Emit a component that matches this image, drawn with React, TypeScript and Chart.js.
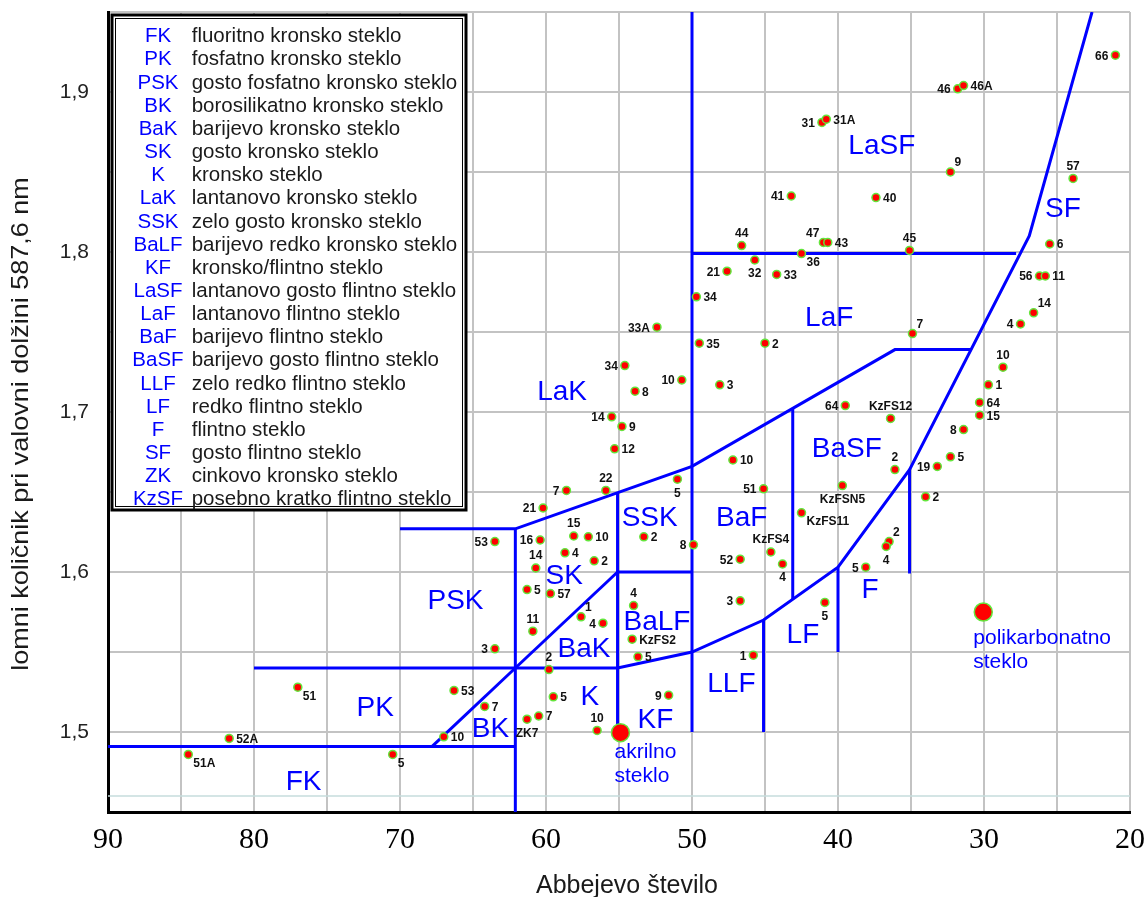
import React, { useEffect, useRef } from 'react';
import { Chart, registerables } from 'chart.js';

Chart.register(...registerables);

// ---------- axis ticks ----------
const xTickValues = [90, 80, 70, 60, 50, 40, 30, 20];
const xTickLabels = ['90', '80', '70', '60', '50', '40', '30', '20'];
const yTickValues = [1.5, 1.6, 1.7, 1.8, 1.9];
const yTickLabels = ['1,5', '1,6', '1,7', '1,8', '1,9'];

const xAxisTitle = 'Abbejevo število';
const yAxisTitle = 'lomni količnik pri valovni dolžini 587,6 nm';

// ---------- glasses (Abbe number, refractive index n_d) ----------
const glassNames = [
  '66', '46', '46A', '31', '31A', '9', '57', '41', '40', '47',
  '43', '45', '36', '6', '44', '21', '32', '33', '56', '11',
  '14', '4', '7', '2', '34', '33A', '35', '34', '10', '3',
  '8', '14', '9', '12', '10', '5', '22', '7', '21', '51',
  '10', '1', '64', '15', '64', 'KzFS12', '8', '5', '19', '2',
  'KzFSN5', '2', 'KzFS11', 'KzFS4', '4', '2', '4', '5', '5', '53',
  '16', '15', '10', '4', '2', '14', '2', '8', '52', '5',
  '57', '3', '4', '1', '4', '11', '3', 'KzFS2', '5', '1',
  '2', '53', '5', '9', '7', '7', 'ZK7', '10', '10', '5',
  '51', '52A', '51A',
];
const abbeNumbers = [
  21.0, 31.8, 31.4, 41.1, 40.8, 32.3, 23.9, 43.2, 37.4, 41.0,
  40.7, 35.1, 42.5, 25.5, 46.6, 47.6, 45.7, 44.2, 26.2, 25.8,
  26.6, 27.5, 34.9, 45.0, 49.7, 52.4, 49.5, 54.6, 50.7, 48.1,
  53.9, 55.5, 54.8, 55.3, 47.2, 51.0, 55.9, 58.6, 60.2, 45.1,
  28.7, 29.7, 30.3, 30.3, 39.5, 36.4, 31.4, 32.3, 33.2, 36.1,
  39.7, 34.0, 42.5, 44.6, 43.8, 36.5, 36.7, 38.1, 40.9, 63.5,
  60.4, 58.1, 57.1, 58.7, 56.7, 60.7, 53.3, 49.9, 46.7, 61.3,
  59.7, 46.7, 54.0, 57.6, 56.1, 60.9, 63.5, 54.1, 53.7, 45.8,
  59.8, 66.3, 59.5, 51.6, 64.2, 60.5, 61.3, 56.5, 67.0, 70.5,
  77.0, 81.7, 84.5,
];
const refractiveIndices = [
  1.923, 1.902, 1.904, 1.881, 1.883, 1.850, 1.846, 1.835, 1.834, 1.806,
  1.806, 1.801, 1.799, 1.805, 1.804, 1.788, 1.795, 1.786, 1.785, 1.785,
  1.762, 1.755, 1.749, 1.743, 1.772, 1.753, 1.743, 1.729, 1.720, 1.717,
  1.713, 1.697, 1.691, 1.677, 1.670, 1.658, 1.651, 1.651, 1.640, 1.652,
  1.728, 1.717, 1.706, 1.698, 1.704, 1.696, 1.689, 1.672, 1.666, 1.664,
  1.654, 1.647, 1.637, 1.6125, 1.605, 1.619, 1.616, 1.603, 1.581, 1.619,
  1.620, 1.6225, 1.622, 1.612, 1.607, 1.6025, 1.622, 1.617, 1.608, 1.589,
  1.5865, 1.582, 1.579, 1.572, 1.568, 1.563, 1.552, 1.558, 1.547, 1.548,
  1.539, 1.526, 1.522, 1.523, 1.516, 1.510, 1.508, 1.501, 1.497, 1.486,
  1.528, 1.496, 1.486,
];
// where each label sits relative to its point (layout only)
const labelSides = [
  'l', 'l', 'r', 'l', 'r', 'tr', 't', 'l', 'r', 'tl',
  'r', 't', 'br', 'r', 't', 'l', 'b', 'r', 'l', 'r',
  'tr', 'l', 'tr', 'r', 'r', 'l', 'r', 'l', 'l', 'r',
  'r', 'l', 'r', 'r', 'r', 'b', 't', 'l', 'l', 'l',
  't', 'r', 'r', 'r', 'l', 't', 'l', 'r', 'l', 't',
  'b', 'r', 'br', 't', 'b', 'tr', 'b', 'l', 'b', 'l',
  'l', 't', 'r', 'r', 'r', 't', 'r', 'l', 'l', 'r',
  'r', 'l', 't', 'tr', 'l', 't', 'l', 'r', 'r', 'l',
  't', 'r', 'r', 'l', 'r', 'r', 'b', 't', 'r', 'br',
  'br', 'r', 'br',
];

// ---------- plastics ----------
const specialNames = [['akrilno', 'steklo'], ['polikarbonatno', 'steklo']];
const specialAbbe = [54.9, 30.05];
const specialIndex = [1.4996, 1.575];
const specialLabelLayout = [[-6, 25, 24], [-10, 32, 24]]; // dx, dy, line step (layout)

// ---------- region names ----------
const regionNames = ['FK', 'PK', 'PSK', 'BK', 'SK', 'BaK', 'K', 'KF', 'BaLF', 'SSK', 'LLF', 'LF', 'F', 'BaF', 'BaSF', 'LaF', 'LaK', 'LaSF', 'SF'];
const regionAbbe = [76.6, 71.7, 66.2, 63.8, 58.75, 57.4, 57.0, 52.5, 52.4, 52.9, 47.3, 42.4, 37.8, 46.6, 39.4, 40.6, 58.9, 37.0, 24.6];
const regionIndex = [1.470, 1.516, 1.583, 1.503, 1.599, 1.553, 1.523, 1.509, 1.570, 1.635, 1.531, 1.562, 1.590, 1.635, 1.678, 1.760, 1.714, 1.8675, 1.828];

// ---------- region boundaries: [Abbe, n_d] vertices ----------
const boundaryLines: number[][][] = [
  [[50, 1.5], [50, 1.95]],
  [[50, 1.799], [27.8, 1.799]],
  [[22.6, 1.95], [26.9, 1.81], [35.1, 1.664], [40, 1.603], [45.1, 1.57], [50, 1.55], [55.1, 1.54], [80, 1.54]],
  [[35.1, 1.664], [35.1, 1.599]],
  [[40, 1.603], [40, 1.55]],
  [[45.1, 1.57], [45.1, 1.5]],
  [[55.1, 1.5], [55.1, 1.65]],
  [[55.1, 1.6], [50, 1.6]],
  [[70, 1.627], [62.1, 1.627], [50, 1.666], [36.1, 1.739], [30.9, 1.739]],
  [[43.1, 1.702], [43.1, 1.583]],
  [[62.1, 1.54], [55.1, 1.6]],
  [[62.1, 1.54], [67.8, 1.491]],
  [[90, 1.491], [62.1, 1.491]],
  [[62.1, 1.45], [62.1, 1.627]],
];
const referenceLineIndex = 1.46;

// ---------- legend ----------
const legendCodes = ['FK', 'PK', 'PSK', 'BK', 'BaK', 'SK', 'K', 'LaK', 'SSK', 'BaLF', 'KF', 'LaSF', 'LaF', 'BaF', 'BaSF', 'LLF', 'LF', 'F', 'SF', 'ZK', 'KzSF'];
const legendDescriptions = [
  'fluoritno kronsko steklo',
  'fosfatno kronsko steklo',
  'gosto fosfatno kronsko steklo',
  'borosilikatno kronsko steklo',
  'barijevo kronsko steklo',
  'gosto kronsko steklo',
  'kronsko steklo',
  'lantanovo kronsko steklo',
  'zelo gosto kronsko steklo',
  'barijevo redko kronsko steklo',
  'kronsko/flintno steklo',
  'lantanovo gosto flintno steklo',
  'lantanovo flintno steklo',
  'barijevo flintno steklo',
  'barijevo gosto flintno steklo',
  'zelo redko flintno steklo',
  'redko flintno steklo',
  'flintno steklo',
  'gosto flintno steklo',
  'cinkovo kronsko steklo',
  'posebno kratko flintno steklo',
];

const SANS = '"Liberation Sans", Arial, Helvetica, sans-serif';
const SERIF = '"Liberation Serif", "Times New Roman", serif';
const BLUE = '#0000ff';
const TEXT = '#1a1a1a';
const RED = '#ff0000';
const GREEN = '#63e63c';

const W = 1145;
const H = 897;

const SIDE_OFFSETS: Record<string, [number, number, CanvasTextAlign]> = {
  r: [7, 0, 'left'],
  l: [-7, 0, 'right'],
  t: [0, -13, 'center'],
  b: [0, 13, 'center'],
  tr: [4, -10, 'left'],
  tl: [-4, -10, 'right'],
  br: [5, 8, 'left'],
  bl: [-5, 8, 'right'],
};

const overlayPlugin = {
  id: 'abbeOverlay',
  afterDatasetsDraw(chart: any) {
    const { ctx, chartArea: a } = chart;
    const xs = chart.scales.x;
    const ys = chart.scales.y;
    ctx.save();

    // region names
    ctx.fillStyle = BLUE;
    ctx.font = `28px ${SANS}`;
    ctx.textAlign = 'center';
    ctx.textBaseline = 'alphabetic';
    regionNames.forEach((name, i) => {
      const px = xs.getPixelForValue(regionAbbe[i]);
      const py = ys.getPixelForValue(regionIndex[i]);
      ctx.fillText(name, px, py + 28 * 0.358);
    });

    // glass labels
    const meta = chart.getDatasetMeta(0);
    ctx.fillStyle = '#111';
    ctx.font = `bold 12px ${SANS}`;
    ctx.textBaseline = 'middle';
    glassNames.forEach((name, i) => {
      const el = meta.data[i];
      if (!el) return;
      const [dx, dy, align] = SIDE_OFFSETS[labelSides[i]] || SIDE_OFFSETS.r;
      ctx.textAlign = align;
      ctx.fillText(name, el.x + dx, el.y + dy + 1);
    });

    // plastics labels
    const smeta = chart.getDatasetMeta(1);
    ctx.fillStyle = BLUE;
    ctx.font = `21px ${SANS}`;
    ctx.textAlign = 'left';
    ctx.textBaseline = 'alphabetic';
    specialNames.forEach((lines, i) => {
      const el = smeta.data[i];
      if (!el) return;
      const [dx, dy, step] = specialLabelLayout[i];
      lines.forEach((ln, k) => ctx.fillText(ln, el.x + dx, el.y + dy + k * step));
    });

    // axis titles
    ctx.fillStyle = TEXT;
    ctx.font = `25px ${SANS}`;
    ctx.textAlign = 'center';
    ctx.fillText(xAxisTitle, (a.left + a.right) / 2 + 8, a.bottom + 81);

    ctx.save();
    ctx.translate(a.left - 80, a.top + 412);
    ctx.rotate(-Math.PI / 2);
    ctx.scale(1, 0.87);
    ctx.font = `27px ${SANS}`;
    ctx.textAlign = 'center';
    ctx.fillText(yAxisTitle, 0, 0);
    ctx.restore();

    ctx.restore();
  },
  afterDraw(chart: any) {
    const { ctx, chartArea: a } = chart;
    ctx.save();
    const bx = a.left + 4;
    const by = a.top + 3;
    const bw = 354;
    const bh = 495;
    ctx.fillStyle = '#ffffff';
    ctx.fillRect(bx, by, bw, bh);
    ctx.strokeStyle = '#000';
    ctx.lineWidth = 3;
    ctx.strokeRect(bx, by, bw, bh);
    ctx.lineWidth = 1;
    ctx.strokeRect(bx + 3.5, by + 3.5, bw - 7, bh - 7);

    const fs = 20.5;
    legendCodes.forEach((code, i) => {
      const cy = by + 20 + i * 23.15;
      ctx.textBaseline = 'alphabetic';
      ctx.font = `${fs}px ${SANS}`;
      ctx.fillStyle = BLUE;
      ctx.textAlign = 'center';
      ctx.fillText(code, bx + 46, cy + fs * 0.358);
      ctx.fillStyle = TEXT;
      ctx.textAlign = 'left';
      ctx.fillText(legendDescriptions[i], bx + 79.7, cy + fs * 0.358);
    });
    ctx.restore();
  },
};

function tickLabel(values: number[], labels: string[], v: number) {
  const i = values.findIndex((t) => Math.abs(t - v) < 1e-6);
  return i >= 0 ? labels[i] : '';
}

export default function App() {
  const ref = useRef<HTMLCanvasElement>(null);

  useEffect(() => {
    const canvas = ref.current;
    if (!canvas) return;

    const glassData = abbeNumbers.map((x, i) => ({ x, y: refractiveIndices[i] }));
    const specialData = specialAbbe.map((x, i) => ({ x, y: specialIndex[i] }));

    const lineSets = boundaryLines.map((line) => ({
      data: line.map(([x, y]) => ({ x, y })),
      showLine: true,
      borderColor: BLUE,
      borderWidth: 3,
      pointRadius: 0,
      pointHoverRadius: 0,
      fill: false,
      tension: 0,
      order: 2,
    }));

    const chart = new Chart(canvas, {
      type: 'scatter',
      data: {
        datasets: [
          {
            data: glassData,
            pointRadius: 4,
            pointBackgroundColor: RED,
            pointBorderColor: GREEN,
            pointBorderWidth: 1.5,
            order: 0,
          } as any,
          {
            data: specialData,
            pointRadius: 9,
            pointBackgroundColor: RED,
            pointBorderColor: GREEN,
            pointBorderWidth: 1.5,
            order: 1,
          } as any,
          ...lineSets,
          {
            data: [
              { x: 90, y: referenceLineIndex },
              { x: 20, y: referenceLineIndex },
            ],
            showLine: true,
            borderColor: '#c6dcdc',
            borderWidth: 1.5,
            pointRadius: 0,
            order: 3,
          } as any,
        ],
      },
      options: {
        responsive: false,
        animation: false,
        events: [],
        layout: { autoPadding: false, padding: { top: 12, right: 15, left: 0, bottom: 0 } },
        plugins: {
          legend: { display: false },
          tooltip: { enabled: false },
        },
        scales: {
          x: {
            type: 'linear',
            reverse: true,
            min: 20,
            max: 90,
            afterFit: (s: any) => {
              s.height = 85;
              s.paddingLeft = 0;
              s.paddingRight = 0;
            },
            border: { display: true, color: '#000', width: 3 },
            grid: { color: '#c3c3c3', lineWidth: 2, drawTicks: false },
            ticks: {
              stepSize: 5,
              autoSkip: false,
              maxRotation: 0,
              padding: 10,
              color: '#000',
              font: { family: SERIF, size: 30 },
              callback: (v: any) => tickLabel(xTickValues, xTickLabels, Number(v)),
            },
          },
          y: {
            type: 'linear',
            min: 1.45,
            max: 1.95,
            afterFit: (s: any) => {
              s.width = 108;
              s.paddingTop = 0;
              s.paddingBottom = 0;
            },
            border: { display: true, color: '#000', width: 3 },
            grid: { color: '#c3c3c3', lineWidth: 2, drawTicks: false },
            ticks: {
              stepSize: 0.05,
              autoSkip: false,
              padding: 19,
              color: '#222',
              font: { family: SANS, size: 21 },
              callback: (v: any) => tickLabel(yTickValues, yTickLabels, Number(v)),
            },
          },
        },
      } as any,
      plugins: [overlayPlugin],
    });

    return () => chart.destroy();
  }, []);

  return (
    <div style={{ width: 1129, height: 881 }}>
      <canvas
        ref={ref}
        width={W}
        height={H}
        style={{ display: 'block', position: 'fixed', left: 0, top: 0, width: W, height: H }}
      />
    </div>
  );
}
